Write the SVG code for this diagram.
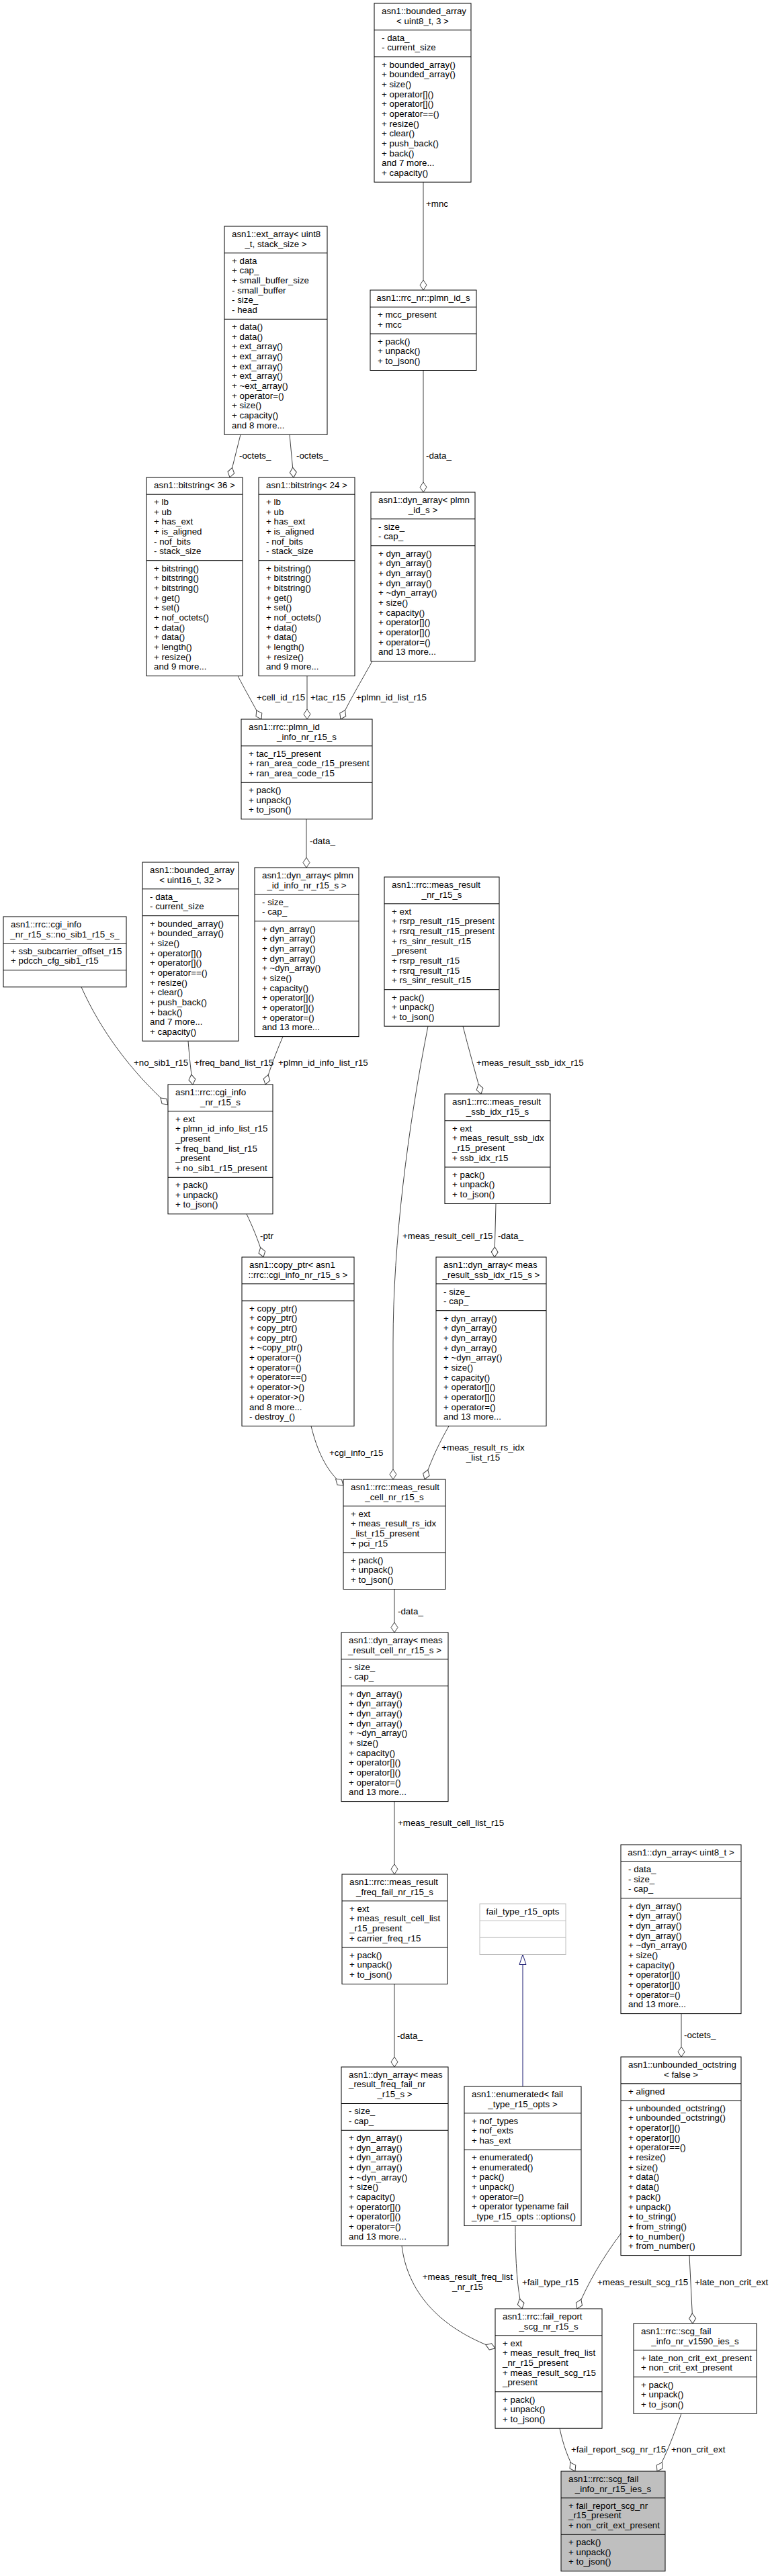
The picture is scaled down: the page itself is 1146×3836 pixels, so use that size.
<svg xmlns="http://www.w3.org/2000/svg" width="1146" height="3836" viewBox="0 0 1146 3836">
<style>
text{font-family:"Liberation Sans",Arial,Helvetica,sans-serif;font-size:13.33px;fill:#000}
.c{text-anchor:middle}
.box{fill:#fff;stroke:#000;stroke-width:1}
.ext{fill:#fff;stroke:#bfbfbf;stroke-width:1}
.root{fill:#bfbfbf;stroke:#000;stroke-width:1}
.sep{stroke:#000;stroke-width:1}
.sepg{stroke:#bfbfbf;stroke-width:1}
.e{fill:none;stroke:#404040;stroke-width:1;marker-end:url(#dia)}
.inh{fill:none;stroke:#191970;stroke-width:1;marker-end:url(#tri)}
</style>
<defs>
<marker id="dia" markerUnits="userSpaceOnUse" markerWidth="15" markerHeight="11" viewBox="0 0 15 11" refX="15" refY="5.5" orient="auto" overflow="visible"><path d="M0,5.5 L7.5,0.5 L15,5.5 L7.5,10.5 Z" fill="#fff" stroke="#404040" stroke-width="1"/></marker>
<marker id="tri" markerUnits="userSpaceOnUse" markerWidth="15" markerHeight="11" viewBox="0 0 15 11" refX="15" refY="5.5" orient="auto" overflow="visible"><path d="M0,0.5 L15,5.5 L0,10.5 Z" fill="#fff" stroke="#191970" stroke-width="1"/></marker>
</defs>

<g id="edges">
<path class="e" d="M630,271.2 L630,432"/>
<path class="e" d="M630,551.5 L630,733"/>
<path class="e" d="M358,647.2 L342,711"/>
<path class="e" d="M431,647.2 L437,711"/>
<path class="e" d="M354,1006.6 C362,1022 372,1040 389,1071"/>
<path class="e" d="M457,1006.6 L457,1071"/>
<path class="e" d="M554,984.6 C540,1010 522,1040 507,1071"/>
<path class="e" d="M456,1219.8 L456,1292"/>
<path class="e" d="M121,1469.8 C150,1535 195,1595 250,1645"/>
<path class="e" d="M280,1550.2 C282,1575 284,1595 287,1615"/>
<path class="e" d="M421,1543.6 C412,1565 402,1590 395,1615"/>
<path class="e" d="M367,1807.8 C375,1825 384,1845 392,1872"/>
<path class="e" d="M689,1528.2 C697,1560 707,1595 716,1629"/>
<path class="e" d="M738,1792.5 L736,1872"/>
<path class="e" d="M637,1528.2 C607,1680 585,1850 585,2000 L585,2203"/>
<path class="e" d="M463,2123.6 C472,2160 485,2190 511,2212"/>
<path class="e" d="M668,2123.6 C656,2145 643,2170 632,2203"/>
<path class="e" d="M587,2366.5 L587,2431"/>
<path class="e" d="M587,2682.6 L587,2791"/>
<path class="e" d="M587,2954.5 L587,3078"/>
<path class="inh" d="M778,3107 L778,2910.5"/>
<path class="e" d="M598,3344.2 C606,3410 650,3465 737,3497"/>
<path class="e" d="M767,3314.5 C767,3370 770,3410 777,3438"/>
<path class="e" d="M924,3326 C895,3365 875,3400 859,3438"/>
<path class="e" d="M1026,3358.6 L1031,3460"/>
<path class="e" d="M833,3616.2 C838,3640 845,3660 856,3680"/>
<path class="e" d="M1014,3594.2 C1003,3625 992,3655 978,3680"/>
<path class="e" d="M1014,2998.6 L1014,3063"/>
<text x="634" y="308">+mnc</text>
<text x="634" y="683">-data_</text>
<text x="356" y="683">-octets_</text>
<text x="441" y="683">-octets_</text>
<text x="382" y="1043">+cell_id_r15</text>
<text x="462" y="1043">+tac_r15</text>
<text x="530" y="1043">+plmn_id_list_r15</text>
<text x="461" y="1256.5">-data_</text>
<text x="199" y="1587">+no_sib1_r15</text>
<text x="289" y="1587">+freq_band_list_r15</text>
<text x="414" y="1587">+plmn_id_info_list_r15</text>
<text x="709" y="1587">+meas_result_ssb_idx_r15</text>
<text x="387" y="1844.5">-ptr</text>
<text x="599" y="1844.5">+meas_result_cell_r15</text>
<text x="741" y="1844.5">-data_</text>
<text x="490" y="2167.5">+cgi_info_r15</text>
<text class="c" x="719" y="2160">+meas_result_rs_idx<tspan x="719" dy="14.67">_list_r15</tspan></text>
<text x="592" y="2403.5">-data_</text>
<text x="592" y="2719">+meas_result_cell_list_r15</text>
<text x="591" y="3035.5">-data_</text>
<text x="1018" y="3034.5">-octets_</text>
<text class="c" x="696" y="3395">+meas_result_freq_list<tspan x="696" dy="14.67">_nr_r15</tspan></text>
<text x="777" y="3402.6">+fail_type_r15</text>
<text x="889" y="3402.6">+meas_result_scg_r15</text>
<text x="1034" y="3402.6">+late_non_crit_ext</text>
<text x="850" y="3652">+fail_report_scg_nr_r15</text>
<text x="999" y="3652">+non_crit_ext</text>
</g>

<g id="bounded_array_uint8_3">
<rect class="box" x="557" y="5" width="144" height="266.2"/>
<line class="sep" x1="557" y1="44.8" x2="701" y2="44.8"/>
<line class="sep" x1="557" y1="84.7" x2="701" y2="84.7"/>
<text x="568" y="20.8">asn1::bounded_array</text>
<text class="c" x="629" y="35.5">&lt; uint8_t, 3 &gt;</text>
<text x="568" y="60.6">- data_<tspan x="568" dy="14.67">- current_size</tspan></text>
<text x="568" y="100.5">+ bounded_array()<tspan x="568" dy="14.67">+ bounded_array()</tspan><tspan x="568" dy="14.67">+ size()</tspan><tspan x="568" dy="14.67">+ operator[]()</tspan><tspan x="568" dy="14.67">+ operator[]()</tspan><tspan x="568" dy="14.67">+ operator==()</tspan><tspan x="568" dy="14.67">+ resize()</tspan><tspan x="568" dy="14.67">+ clear()</tspan><tspan x="568" dy="14.67">+ push_back()</tspan><tspan x="568" dy="14.67">+ back()</tspan><tspan x="568" dy="14.67">and 7 more...</tspan><tspan x="568" dy="14.67">+ capacity()</tspan></text>
</g>

<g id="plmn_id_s">
<rect class="box" x="551" y="432" width="158" height="119.5"/>
<line class="sep" x1="551" y1="457.2" x2="709" y2="457.2"/>
<line class="sep" x1="551" y1="497" x2="709" y2="497"/>
<text class="c" x="630" y="447.8">asn1::rrc_nr::plmn_id_s</text>
<text x="562" y="473">+ mcc_present<tspan x="562" dy="14.67">+ mcc</tspan></text>
<text x="562" y="512.8">+ pack()<tspan x="562" dy="14.67">+ unpack()</tspan><tspan x="562" dy="14.67">+ to_json()</tspan></text>
</g>

<g id="ext_array_uint8">
<rect class="box" x="334" y="337" width="153" height="310.2"/>
<line class="sep" x1="334" y1="376.8" x2="487" y2="376.8"/>
<line class="sep" x1="334" y1="475.3" x2="487" y2="475.3"/>
<text x="345" y="352.8">asn1::ext_array&lt; uint8</text>
<text class="c" x="410.5" y="367.5">_t, stack_size &gt;</text>
<text x="345" y="392.6">+ data<tspan x="345" dy="14.67">+ cap_</tspan><tspan x="345" dy="14.67">+ small_buffer_size</tspan><tspan x="345" dy="14.67">- small_buffer</tspan><tspan x="345" dy="14.67">- size_</tspan><tspan x="345" dy="14.67">- head</tspan></text>
<text x="345" y="491.1">+ data()<tspan x="345" dy="14.67">+ data()</tspan><tspan x="345" dy="14.67">+ ext_array()</tspan><tspan x="345" dy="14.67">+ ext_array()</tspan><tspan x="345" dy="14.67">+ ext_array()</tspan><tspan x="345" dy="14.67">+ ext_array()</tspan><tspan x="345" dy="14.67">+ ~ext_array()</tspan><tspan x="345" dy="14.67">+ operator=()</tspan><tspan x="345" dy="14.67">+ size()</tspan><tspan x="345" dy="14.67">+ capacity()</tspan><tspan x="345" dy="14.67">and 8 more...</tspan></text>
</g>

<g id="bitstring_36">
<rect class="box" x="218" y="711" width="143" height="295.6"/>
<line class="sep" x1="218" y1="736.2" x2="361" y2="736.2"/>
<line class="sep" x1="218" y1="834.7" x2="361" y2="834.7"/>
<text class="c" x="289.5" y="726.8">asn1::bitstring&lt; 36 &gt;</text>
<text x="229" y="752">+ lb<tspan x="229" dy="14.67">+ ub</tspan><tspan x="229" dy="14.67">+ has_ext</tspan><tspan x="229" dy="14.67">+ is_aligned</tspan><tspan x="229" dy="14.67">- nof_bits</tspan><tspan x="229" dy="14.67">- stack_size</tspan></text>
<text x="229" y="850.5">+ bitstring()<tspan x="229" dy="14.67">+ bitstring()</tspan><tspan x="229" dy="14.67">+ bitstring()</tspan><tspan x="229" dy="14.67">+ get()</tspan><tspan x="229" dy="14.67">+ set()</tspan><tspan x="229" dy="14.67">+ nof_octets()</tspan><tspan x="229" dy="14.67">+ data()</tspan><tspan x="229" dy="14.67">+ data()</tspan><tspan x="229" dy="14.67">+ length()</tspan><tspan x="229" dy="14.67">+ resize()</tspan><tspan x="229" dy="14.67">and 9 more...</tspan></text>
</g>

<g id="bitstring_24">
<rect class="box" x="385" y="711" width="143" height="295.6"/>
<line class="sep" x1="385" y1="736.2" x2="528" y2="736.2"/>
<line class="sep" x1="385" y1="834.7" x2="528" y2="834.7"/>
<text class="c" x="456.5" y="726.8">asn1::bitstring&lt; 24 &gt;</text>
<text x="396" y="752">+ lb<tspan x="396" dy="14.67">+ ub</tspan><tspan x="396" dy="14.67">+ has_ext</tspan><tspan x="396" dy="14.67">+ is_aligned</tspan><tspan x="396" dy="14.67">- nof_bits</tspan><tspan x="396" dy="14.67">- stack_size</tspan></text>
<text x="396" y="850.5">+ bitstring()<tspan x="396" dy="14.67">+ bitstring()</tspan><tspan x="396" dy="14.67">+ bitstring()</tspan><tspan x="396" dy="14.67">+ get()</tspan><tspan x="396" dy="14.67">+ set()</tspan><tspan x="396" dy="14.67">+ nof_octets()</tspan><tspan x="396" dy="14.67">+ data()</tspan><tspan x="396" dy="14.67">+ data()</tspan><tspan x="396" dy="14.67">+ length()</tspan><tspan x="396" dy="14.67">+ resize()</tspan><tspan x="396" dy="14.67">and 9 more...</tspan></text>
</g>

<g id="dyn_array_plmn_id_s">
<rect class="box" x="552" y="733" width="155" height="251.6"/>
<line class="sep" x1="552" y1="772.8" x2="707" y2="772.8"/>
<line class="sep" x1="552" y1="812.7" x2="707" y2="812.7"/>
<text x="563" y="748.8">asn1::dyn_array&lt; plmn</text>
<text class="c" x="629.5" y="763.5">_id_s &gt;</text>
<text x="563" y="788.6">- size_<tspan x="563" dy="14.67">- cap_</tspan></text>
<text x="563" y="828.5">+ dyn_array()<tspan x="563" dy="14.67">+ dyn_array()</tspan><tspan x="563" dy="14.67">+ dyn_array()</tspan><tspan x="563" dy="14.67">+ dyn_array()</tspan><tspan x="563" dy="14.67">+ ~dyn_array()</tspan><tspan x="563" dy="14.67">+ size()</tspan><tspan x="563" dy="14.67">+ capacity()</tspan><tspan x="563" dy="14.67">+ operator[]()</tspan><tspan x="563" dy="14.67">+ operator[]()</tspan><tspan x="563" dy="14.67">+ operator=()</tspan><tspan x="563" dy="14.67">and 13 more...</tspan></text>
</g>

<g id="plmn_id_info_nr_r15_s">
<rect class="box" x="359" y="1071" width="195" height="148.8"/>
<line class="sep" x1="359" y1="1110.8" x2="554" y2="1110.8"/>
<line class="sep" x1="359" y1="1165.3" x2="554" y2="1165.3"/>
<text x="370" y="1086.8">asn1::rrc::plmn_id</text>
<text class="c" x="456.5" y="1101.5">_info_nr_r15_s</text>
<text x="370" y="1126.6">+ tac_r15_present<tspan x="370" dy="14.67">+ ran_area_code_r15_present</tspan><tspan x="370" dy="14.67">+ ran_area_code_r15</tspan></text>
<text x="370" y="1181.1">+ pack()<tspan x="370" dy="14.67">+ unpack()</tspan><tspan x="370" dy="14.67">+ to_json()</tspan></text>
</g>

<g id="dyn_array_plmn_id_info">
<rect class="box" x="379" y="1292" width="155" height="251.6"/>
<line class="sep" x1="379" y1="1331.8" x2="534" y2="1331.8"/>
<line class="sep" x1="379" y1="1371.7" x2="534" y2="1371.7"/>
<text x="390" y="1307.8">asn1::dyn_array&lt; plmn</text>
<text class="c" x="456.5" y="1322.5">_id_info_nr_r15_s &gt;</text>
<text x="390" y="1347.6">- size_<tspan x="390" dy="14.67">- cap_</tspan></text>
<text x="390" y="1387.5">+ dyn_array()<tspan x="390" dy="14.67">+ dyn_array()</tspan><tspan x="390" dy="14.67">+ dyn_array()</tspan><tspan x="390" dy="14.67">+ dyn_array()</tspan><tspan x="390" dy="14.67">+ ~dyn_array()</tspan><tspan x="390" dy="14.67">+ size()</tspan><tspan x="390" dy="14.67">+ capacity()</tspan><tspan x="390" dy="14.67">+ operator[]()</tspan><tspan x="390" dy="14.67">+ operator[]()</tspan><tspan x="390" dy="14.67">+ operator=()</tspan><tspan x="390" dy="14.67">and 13 more...</tspan></text>
</g>

<g id="bounded_array_uint16_32">
<rect class="box" x="212" y="1284" width="143" height="266.2"/>
<line class="sep" x1="212" y1="1323.8" x2="355" y2="1323.8"/>
<line class="sep" x1="212" y1="1363.7" x2="355" y2="1363.7"/>
<text x="223" y="1299.8">asn1::bounded_array</text>
<text class="c" x="283.5" y="1314.5">&lt; uint16_t, 32 &gt;</text>
<text x="223" y="1339.6">- data_<tspan x="223" dy="14.67">- current_size</tspan></text>
<text x="223" y="1379.5">+ bounded_array()<tspan x="223" dy="14.67">+ bounded_array()</tspan><tspan x="223" dy="14.67">+ size()</tspan><tspan x="223" dy="14.67">+ operator[]()</tspan><tspan x="223" dy="14.67">+ operator[]()</tspan><tspan x="223" dy="14.67">+ operator==()</tspan><tspan x="223" dy="14.67">+ resize()</tspan><tspan x="223" dy="14.67">+ clear()</tspan><tspan x="223" dy="14.67">+ push_back()</tspan><tspan x="223" dy="14.67">+ back()</tspan><tspan x="223" dy="14.67">and 7 more...</tspan><tspan x="223" dy="14.67">+ capacity()</tspan></text>
</g>

<g id="no_sib1_r15_s">
<rect class="box" x="5" y="1365" width="183" height="104.8"/>
<line class="sep" x1="5" y1="1404.8" x2="188" y2="1404.8"/>
<line class="sep" x1="5" y1="1444.7" x2="188" y2="1444.7"/>
<text x="16" y="1380.8">asn1::rrc::cgi_info</text>
<text class="c" x="96.5" y="1395.5">_nr_r15_s::no_sib1_r15_s_</text>
<text x="16" y="1420.6">+ ssb_subcarrier_offset_r15<tspan x="16" dy="14.67">+ pdcch_cfg_sib1_r15</tspan></text>
</g>

<g id="cgi_info_nr_r15_s">
<rect class="box" x="250" y="1615" width="156" height="192.8"/>
<line class="sep" x1="250" y1="1654.8" x2="406" y2="1654.8"/>
<line class="sep" x1="250" y1="1753.3" x2="406" y2="1753.3"/>
<text x="261" y="1630.8">asn1::rrc::cgi_info</text>
<text class="c" x="328" y="1645.5">_nr_r15_s</text>
<text x="261" y="1670.6">+ ext<tspan x="261" dy="14.67">+ plmn_id_info_list_r15</tspan><tspan x="261" dy="14.67">_present</tspan><tspan x="261" dy="14.67">+ freq_band_list_r15</tspan><tspan x="261" dy="14.67">_present</tspan><tspan x="261" dy="14.67">+ no_sib1_r15_present</tspan></text>
<text x="261" y="1769.1">+ pack()<tspan x="261" dy="14.67">+ unpack()</tspan><tspan x="261" dy="14.67">+ to_json()</tspan></text>
</g>

<g id="meas_result_nr_r15_s">
<rect class="box" x="572" y="1306" width="171" height="222.2"/>
<line class="sep" x1="572" y1="1345.8" x2="743" y2="1345.8"/>
<line class="sep" x1="572" y1="1473.7" x2="743" y2="1473.7"/>
<text x="583" y="1321.8">asn1::rrc::meas_result</text>
<text class="c" x="657.5" y="1336.5">_nr_r15_s</text>
<text x="583" y="1361.6">+ ext<tspan x="583" dy="14.67">+ rsrp_result_r15_present</tspan><tspan x="583" dy="14.67">+ rsrq_result_r15_present</tspan><tspan x="583" dy="14.67">+ rs_sinr_result_r15</tspan><tspan x="583" dy="14.67">_present</tspan><tspan x="583" dy="14.67">+ rsrp_result_r15</tspan><tspan x="583" dy="14.67">+ rsrq_result_r15</tspan><tspan x="583" dy="14.67">+ rs_sinr_result_r15</tspan></text>
<text x="583" y="1489.5">+ pack()<tspan x="583" dy="14.67">+ unpack()</tspan><tspan x="583" dy="14.67">+ to_json()</tspan></text>
</g>

<g id="meas_result_ssb_idx_r15_s">
<rect class="box" x="662" y="1629" width="157" height="163.5"/>
<line class="sep" x1="662" y1="1668.8" x2="819" y2="1668.8"/>
<line class="sep" x1="662" y1="1738" x2="819" y2="1738"/>
<text x="673" y="1644.8">asn1::rrc::meas_result</text>
<text class="c" x="740.5" y="1659.5">_ssb_idx_r15_s</text>
<text x="673" y="1684.6">+ ext<tspan x="673" dy="14.67">+ meas_result_ssb_idx</tspan><tspan x="673" dy="14.67">_r15_present</tspan><tspan x="673" dy="14.67">+ ssb_idx_r15</tspan></text>
<text x="673" y="1753.8">+ pack()<tspan x="673" dy="14.67">+ unpack()</tspan><tspan x="673" dy="14.67">+ to_json()</tspan></text>
</g>

<g id="dyn_array_meas_result_ssb_idx">
<rect class="box" x="649" y="1872" width="164" height="251.6"/>
<line class="sep" x1="649" y1="1911.8" x2="813" y2="1911.8"/>
<line class="sep" x1="649" y1="1951.7" x2="813" y2="1951.7"/>
<text x="660" y="1887.8">asn1::dyn_array&lt; meas</text>
<text class="c" x="731" y="1902.5">_result_ssb_idx_r15_s &gt;</text>
<text x="660" y="1927.6">- size_<tspan x="660" dy="14.67">- cap_</tspan></text>
<text x="660" y="1967.5">+ dyn_array()<tspan x="660" dy="14.67">+ dyn_array()</tspan><tspan x="660" dy="14.67">+ dyn_array()</tspan><tspan x="660" dy="14.67">+ dyn_array()</tspan><tspan x="660" dy="14.67">+ ~dyn_array()</tspan><tspan x="660" dy="14.67">+ size()</tspan><tspan x="660" dy="14.67">+ capacity()</tspan><tspan x="660" dy="14.67">+ operator[]()</tspan><tspan x="660" dy="14.67">+ operator[]()</tspan><tspan x="660" dy="14.67">+ operator=()</tspan><tspan x="660" dy="14.67">and 13 more...</tspan></text>
</g>

<g id="copy_ptr_cgi_info">
<rect class="box" x="360" y="1872" width="167" height="251.7"/>
<line class="sep" x1="360" y1="1911.8" x2="527" y2="1911.8"/>
<line class="sep" x1="360" y1="1937" x2="527" y2="1937"/>
<text x="371" y="1887.8">asn1::copy_ptr&lt; asn1</text>
<text class="c" x="443.5" y="1902.5">::rrc::cgi_info_nr_r15_s &gt;</text>
<text x="371" y="1952.8">+ copy_ptr()<tspan x="371" dy="14.67">+ copy_ptr()</tspan><tspan x="371" dy="14.67">+ copy_ptr()</tspan><tspan x="371" dy="14.67">+ copy_ptr()</tspan><tspan x="371" dy="14.67">+ ~copy_ptr()</tspan><tspan x="371" dy="14.67">+ operator=()</tspan><tspan x="371" dy="14.67">+ operator=()</tspan><tspan x="371" dy="14.67">+ operator==()</tspan><tspan x="371" dy="14.67">+ operator-&gt;()</tspan><tspan x="371" dy="14.67">+ operator-&gt;()</tspan><tspan x="371" dy="14.67">and 8 more...</tspan><tspan x="371" dy="14.67">- destroy_()</tspan></text>
</g>

<g id="meas_result_cell_nr_r15_s">
<rect class="box" x="511" y="2203" width="152" height="163.5"/>
<line class="sep" x1="511" y1="2242.8" x2="663" y2="2242.8"/>
<line class="sep" x1="511" y1="2312" x2="663" y2="2312"/>
<text x="522" y="2218.8">asn1::rrc::meas_result</text>
<text class="c" x="587" y="2233.5">_cell_nr_r15_s</text>
<text x="522" y="2258.6">+ ext<tspan x="522" dy="14.67">+ meas_result_rs_idx</tspan><tspan x="522" dy="14.67">_list_r15_present</tspan><tspan x="522" dy="14.67">+ pci_r15</tspan></text>
<text x="522" y="2327.8">+ pack()<tspan x="522" dy="14.67">+ unpack()</tspan><tspan x="522" dy="14.67">+ to_json()</tspan></text>
</g>

<g id="dyn_array_meas_result_cell">
<rect class="box" x="508" y="2431" width="159" height="251.6"/>
<line class="sep" x1="508" y1="2470.8" x2="667" y2="2470.8"/>
<line class="sep" x1="508" y1="2510.7" x2="667" y2="2510.7"/>
<text x="519" y="2446.8">asn1::dyn_array&lt; meas</text>
<text class="c" x="587.5" y="2461.5">_result_cell_nr_r15_s &gt;</text>
<text x="519" y="2486.6">- size_<tspan x="519" dy="14.67">- cap_</tspan></text>
<text x="519" y="2526.5">+ dyn_array()<tspan x="519" dy="14.67">+ dyn_array()</tspan><tspan x="519" dy="14.67">+ dyn_array()</tspan><tspan x="519" dy="14.67">+ dyn_array()</tspan><tspan x="519" dy="14.67">+ ~dyn_array()</tspan><tspan x="519" dy="14.67">+ size()</tspan><tspan x="519" dy="14.67">+ capacity()</tspan><tspan x="519" dy="14.67">+ operator[]()</tspan><tspan x="519" dy="14.67">+ operator[]()</tspan><tspan x="519" dy="14.67">+ operator=()</tspan><tspan x="519" dy="14.67">and 13 more...</tspan></text>
</g>

<g id="meas_result_freq_fail_nr_r15_s">
<rect class="box" x="509" y="2791" width="157" height="163.5"/>
<line class="sep" x1="509" y1="2830.8" x2="666" y2="2830.8"/>
<line class="sep" x1="509" y1="2900" x2="666" y2="2900"/>
<text x="520" y="2806.8">asn1::rrc::meas_result</text>
<text class="c" x="587.5" y="2821.5">_freq_fail_nr_r15_s</text>
<text x="520" y="2846.6">+ ext<tspan x="520" dy="14.67">+ meas_result_cell_list</tspan><tspan x="520" dy="14.67">_r15_present</tspan><tspan x="520" dy="14.67">+ carrier_freq_r15</tspan></text>
<text x="520" y="2915.8">+ pack()<tspan x="520" dy="14.67">+ unpack()</tspan><tspan x="520" dy="14.67">+ to_json()</tspan></text>
</g>

<g id="dyn_array_meas_result_freq_fail">
<rect class="box" x="508" y="3078" width="159" height="266.2"/>
<line class="sep" x1="508" y1="3132.5" x2="667" y2="3132.5"/>
<line class="sep" x1="508" y1="3172.3" x2="667" y2="3172.3"/>
<text x="519" y="3093.8">asn1::dyn_array&lt; meas<tspan x="519" dy="14.67">_result_freq_fail_nr</tspan></text>
<text class="c" x="587.5" y="3123.1">_r15_s &gt;</text>
<text x="519" y="3148.3">- size_<tspan x="519" dy="14.67">- cap_</tspan></text>
<text x="519" y="3188.1">+ dyn_array()<tspan x="519" dy="14.67">+ dyn_array()</tspan><tspan x="519" dy="14.67">+ dyn_array()</tspan><tspan x="519" dy="14.67">+ dyn_array()</tspan><tspan x="519" dy="14.67">+ ~dyn_array()</tspan><tspan x="519" dy="14.67">+ size()</tspan><tspan x="519" dy="14.67">+ capacity()</tspan><tspan x="519" dy="14.67">+ operator[]()</tspan><tspan x="519" dy="14.67">+ operator[]()</tspan><tspan x="519" dy="14.67">+ operator=()</tspan><tspan x="519" dy="14.67">and 13 more...</tspan></text>
</g>

<g id="fail_type_r15_opts">
<rect class="ext" x="714" y="2835" width="128" height="75.5"/>
<line class="sepg" x1="714" y1="2860.2" x2="842" y2="2860.2"/>
<line class="sepg" x1="714" y1="2885.3" x2="842" y2="2885.3"/>
<text class="c" x="778" y="2850.8">fail_type_r15_opts</text>
</g>

<g id="enumerated_fail_type_r15_opts">
<rect class="box" x="691" y="3107" width="174" height="207.5"/>
<line class="sep" x1="691" y1="3146.8" x2="865" y2="3146.8"/>
<line class="sep" x1="691" y1="3201.3" x2="865" y2="3201.3"/>
<text x="702" y="3122.8">asn1::enumerated&lt; fail</text>
<text class="c" x="778" y="3137.5">_type_r15_opts &gt;</text>
<text x="702" y="3162.6">+ nof_types<tspan x="702" dy="14.67">+ nof_exts</tspan><tspan x="702" dy="14.67">+ has_ext</tspan></text>
<text x="702" y="3217.1">+ enumerated()<tspan x="702" dy="14.67">+ enumerated()</tspan><tspan x="702" dy="14.67">+ pack()</tspan><tspan x="702" dy="14.67">+ unpack()</tspan><tspan x="702" dy="14.67">+ operator=()</tspan><tspan x="702" dy="14.67">+ operator typename fail</tspan><tspan x="702" dy="14.67">_type_r15_opts ::options()</tspan></text>
</g>

<g id="dyn_array_uint8">
<rect class="box" x="924" y="2747" width="179" height="251.6"/>
<line class="sep" x1="924" y1="2772.2" x2="1103" y2="2772.2"/>
<line class="sep" x1="924" y1="2826.7" x2="1103" y2="2826.7"/>
<text class="c" x="1013.5" y="2762.8">asn1::dyn_array&lt; uint8_t &gt;</text>
<text x="935" y="2788">- data_<tspan x="935" dy="14.67">- size_</tspan><tspan x="935" dy="14.67">- cap_</tspan></text>
<text x="935" y="2842.5">+ dyn_array()<tspan x="935" dy="14.67">+ dyn_array()</tspan><tspan x="935" dy="14.67">+ dyn_array()</tspan><tspan x="935" dy="14.67">+ dyn_array()</tspan><tspan x="935" dy="14.67">+ ~dyn_array()</tspan><tspan x="935" dy="14.67">+ size()</tspan><tspan x="935" dy="14.67">+ capacity()</tspan><tspan x="935" dy="14.67">+ operator[]()</tspan><tspan x="935" dy="14.67">+ operator[]()</tspan><tspan x="935" dy="14.67">+ operator=()</tspan><tspan x="935" dy="14.67">and 13 more...</tspan></text>
</g>

<g id="unbounded_octstring_false">
<rect class="box" x="924" y="3063" width="179" height="295.6"/>
<line class="sep" x1="924" y1="3102.8" x2="1103" y2="3102.8"/>
<line class="sep" x1="924" y1="3128" x2="1103" y2="3128"/>
<text x="935" y="3078.8">asn1::unbounded_octstring</text>
<text class="c" x="1013.5" y="3093.5">&lt; false &gt;</text>
<text x="935" y="3118.6">+ aligned</text>
<text x="935" y="3143.8">+ unbounded_octstring()<tspan x="935" dy="14.67">+ unbounded_octstring()</tspan><tspan x="935" dy="14.67">+ operator[]()</tspan><tspan x="935" dy="14.67">+ operator[]()</tspan><tspan x="935" dy="14.67">+ operator==()</tspan><tspan x="935" dy="14.67">+ resize()</tspan><tspan x="935" dy="14.67">+ size()</tspan><tspan x="935" dy="14.67">+ data()</tspan><tspan x="935" dy="14.67">+ data()</tspan><tspan x="935" dy="14.67">+ pack()</tspan><tspan x="935" dy="14.67">+ unpack()</tspan><tspan x="935" dy="14.67">+ to_string()</tspan><tspan x="935" dy="14.67">+ from_string()</tspan><tspan x="935" dy="14.67">+ to_number()</tspan><tspan x="935" dy="14.67">+ from_number()</tspan></text>
</g>

<g id="fail_report_scg_nr_r15_s">
<rect class="box" x="737" y="3438" width="159" height="178.2"/>
<line class="sep" x1="737" y1="3477.8" x2="896" y2="3477.8"/>
<line class="sep" x1="737" y1="3561.7" x2="896" y2="3561.7"/>
<text x="748" y="3453.8">asn1::rrc::fail_report</text>
<text class="c" x="816.5" y="3468.5">_scg_nr_r15_s</text>
<text x="748" y="3493.6">+ ext<tspan x="748" dy="14.67">+ meas_result_freq_list</tspan><tspan x="748" dy="14.67">_nr_r15_present</tspan><tspan x="748" dy="14.67">+ meas_result_scg_r15</tspan><tspan x="748" dy="14.67">_present</tspan></text>
<text x="748" y="3577.5">+ pack()<tspan x="748" dy="14.67">+ unpack()</tspan><tspan x="748" dy="14.67">+ to_json()</tspan></text>
</g>

<g id="scg_fail_info_nr_v1590_ies_s">
<rect class="box" x="943" y="3460" width="183" height="134.2"/>
<line class="sep" x1="943" y1="3499.8" x2="1126" y2="3499.8"/>
<line class="sep" x1="943" y1="3539.7" x2="1126" y2="3539.7"/>
<text x="954" y="3475.8">asn1::rrc::scg_fail</text>
<text class="c" x="1034.5" y="3490.5">_info_nr_v1590_ies_s</text>
<text x="954" y="3515.6">+ late_non_crit_ext_present<tspan x="954" dy="14.67">+ non_crit_ext_present</tspan></text>
<text x="954" y="3555.5">+ pack()<tspan x="954" dy="14.67">+ unpack()</tspan><tspan x="954" dy="14.67">+ to_json()</tspan></text>
</g>

<g id="scg_fail_info_nr_r15_ies_s">
<rect class="root" x="835" y="3680" width="155" height="148.8"/>
<line class="sep" x1="835" y1="3719.8" x2="990" y2="3719.8"/>
<line class="sep" x1="835" y1="3774.3" x2="990" y2="3774.3"/>
<text x="846" y="3695.8">asn1::rrc::scg_fail</text>
<text class="c" x="912.5" y="3710.5">_info_nr_r15_ies_s</text>
<text x="846" y="3735.6">+ fail_report_scg_nr<tspan x="846" dy="14.67">_r15_present</tspan><tspan x="846" dy="14.67">+ non_crit_ext_present</tspan></text>
<text x="846" y="3790.1">+ pack()<tspan x="846" dy="14.67">+ unpack()</tspan><tspan x="846" dy="14.67">+ to_json()</tspan></text>
</g>
</svg>
